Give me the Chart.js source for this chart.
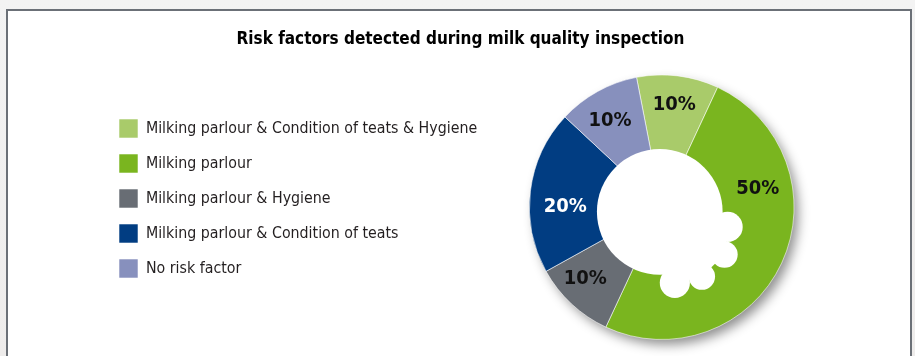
<!DOCTYPE html>
<html>
<head>
<meta charset="utf-8">
<script src="https://cdn.jsdelivr.net/npm/chart.js@4.4.1/dist/chart.umd.min.js"></script>
<style>
  html, body { margin: 0; padding: 0; width: 915px; height: 356px; overflow: hidden;
    background: linear-gradient(#f3f3f3, #eeeceb); }
  #box { position: absolute; left: 6px; top: 9px; width: 902px; height: 400px;
    background: #ffffff; border: 2px solid #6b7077; }
  #wrap { position: absolute; left: 0; top: 0; width: 915px; height: 356px; }
</style>
</head>
<body>
<div id="box"></div>
<div id="wrap"><canvas id="c" width="915" height="356"></canvas></div>
<script>
const titleText = 'Risk factors detected during milk quality inspection';
const categories = [
  'Milking parlour & Condition of teats & Hygiene',
  'Milking parlour',
  'Milking parlour & Hygiene',
  'Milking parlour & Condition of teats',
  'No risk factor'
];
const values = [10, 50, 10, 20, 10];
const sliceColors = ['#a9cb6a', '#7ab51f', '#686d74', '#013d82', '#8790bd'];
const labelColors = ['#111111', '#111111', '#111111', '#ffffff', '#111111'];
const FONT = "'Liberation Sans Narrow', 'DejaVu Sans Condensed', 'Arial Narrow', sans-serif";

// widen the title to the whole framed box and keep long legend labels unclipped
const spanPlugin = {
  id: 'spanFix',
  afterLayout(chart) {
    if (chart.titleBlock) {
      chart.titleBlock.left = 6;
      chart.titleBlock.right = chart.width;
      chart.titleBlock.width = chart.titleBlock.right - chart.titleBlock.left;
    }
    if (chart.legend) {
      chart.legend.right = chart.legend.left + 420;
      chart.legend.width = 420;
    }
  }
};

const shadowPlugin = {
  id: 'pieShadow',
  beforeDatasetsDraw(chart) {
    const arc = chart.getDatasetMeta(0).data[0];
    if (!arc) return;
    const ctx = chart.ctx;
    ctx.save();
    ctx.shadowColor = 'rgba(0,0,0,0.45)';
    ctx.shadowBlur = 12;
    ctx.shadowOffsetX = 5;
    ctx.shadowOffsetY = 6;
    ctx.fillStyle = '#ffffff';
    ctx.beginPath();
    ctx.arc(arc.x, arc.y, arc.outerRadius - 1, 0, Math.PI * 2);
    ctx.fill();
    ctx.restore();
  }
};

const holePlugin = {
  id: 'splashHole',
  afterDatasetsDraw(chart) {
    const arc = chart.getDatasetMeta(0).data[0];
    if (!arc) return;
    const ctx = chart.ctx;
    const R = arc.outerRadius;
    const hr = 0.475 * R;
    const hx = arc.x - 0.015 * R;
    const hy = arc.y + 0.035 * R;
    // bumps: [dx, dy, r] in units of hole radius
    const bumps = [[1.08, 0.24, 0.24], [1.03, 0.68, 0.21], [0.67, 1.03, 0.21], [0.24, 1.13, 0.24]];
    ctx.save();
    ctx.fillStyle = '#ffffff';
    ctx.beginPath();
    ctx.arc(hx, hy, hr, 0, Math.PI * 2);
    ctx.fill();
    ctx.beginPath();
    ctx.moveTo(hx, hy);
    bumps.forEach(b => ctx.lineTo(hx + b[0] * hr, hy + b[1] * hr));
    ctx.closePath();
    ctx.fill();
    bumps.forEach(b => {
      ctx.beginPath();
      ctx.arc(hx + b[0] * hr, hy + b[1] * hr, b[2] * hr, 0, Math.PI * 2);
      ctx.fill();
    });
    ctx.restore();
  }
};

const labelPlugin = {
  id: 'sliceLabels',
  afterDatasetsDraw(chart, args, opts) {
    const meta = chart.getDatasetMeta(0);
    const ctx = chart.ctx;
    ctx.save();
    ctx.font = 'bold 20px ' + FONT;
    ctx.textAlign = 'center';
    ctx.textBaseline = 'middle';
    meta.data.forEach((el, i) => {
      const shift = (opts.angleShift[i] || 0) * Math.PI / 180;
      const mid = (el.startAngle + el.endAngle) / 2 + shift;
      const r = el.outerRadius * opts.radiusFactor[i];
      const x = el.x + Math.cos(mid) * r;
      const y = el.y + Math.sin(mid) * r;
      ctx.fillStyle = labelColors[i];
      ctx.fillText(values[i] + '%', x, y);
    });
    ctx.restore();
  }
};

new Chart(document.getElementById('c'), {
  type: 'doughnut',
  data: {
    labels: categories,
    datasets: [{
      data: values,
      backgroundColor: sliceColors,
      borderColor: 'rgba(255,255,255,0.55)',
      borderWidth: 1
    }]
  },
  options: {
    responsive: false,
    animation: false,
    rotation: -11,
    cutout: '43%',
    layout: { padding: { left: 103, right: 67, top: 0, bottom: 16 } },
    plugins: {
      title: {
        display: true,
        text: titleText,
        color: '#000000',
        font: { family: FONT, size: 17, weight: 'bold', lineHeight: 1.2 },
        padding: { top: 29, bottom: 25 }
      },
      legend: {
        position: 'left',
        align: 'start',
        title: { display: true, text: '', font: { size: 10, lineHeight: 1 }, padding: { top: 93, bottom: 0 } },
        labels: {
          boxWidth: 19,
          boxHeight: 19,
          padding: 16,
          color: '#231f20',
          font: { family: FONT, size: 15.8 }
        }
      },
      tooltip: { enabled: false },
      sliceLabels: {
        angleShift: [0, -36, 4, -7, -2],
        radiusFactor: [0.78, 0.74, 0.79, 0.73, 0.76]
      }
    }
  },
  plugins: [spanPlugin, shadowPlugin, holePlugin, labelPlugin]
});
</script>
</body>
</html>
